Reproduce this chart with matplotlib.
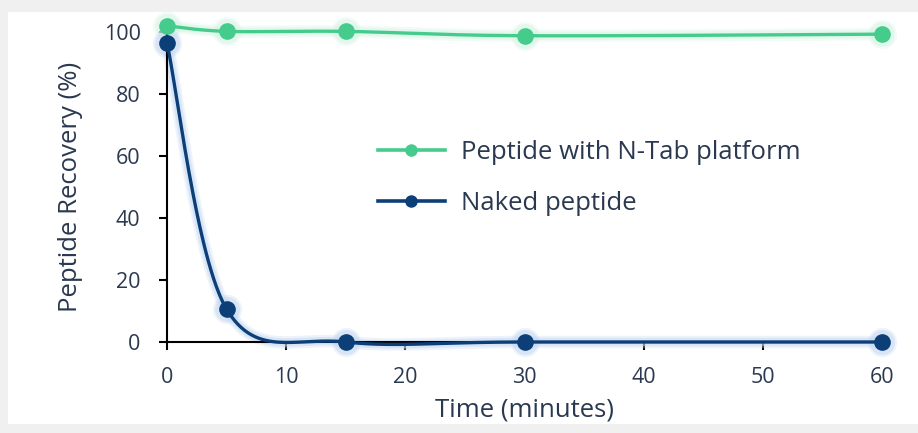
import matplotlib
matplotlib.use('Agg')
import matplotlib.pyplot as plt
import numpy as np
from matplotlib.patches import Rectangle

# data
time_min = [0, 5, 15, 30, 60]
with_ntab = [102, 100.2, 100.2, 98.8, 99.3]
naked = [96.4, 10.6, 0, 0, 0]

green = '#45cc8c'
navy = '#0c3f78'
text_col = '#2b3950'

plt.rcParams['font.family'] = ['Open Sans', 'DejaVu Sans']


def smooth(xs, ys, n=60):
    # Excel-style smoothed line: cubic Bezier per segment
    P = np.column_stack([xs, ys]).astype(float)
    out = []
    for i in range(len(P) - 1):
        p0 = P[i]
        p3 = P[i + 1]
        prev = P[i - 1] if i > 0 else P[i]
        nxt = P[i + 2] if i + 2 < len(P) else P[i + 1]
        c1 = p0 + (p3 - prev) / 6
        c2 = p3 - (nxt - p0) / 6
        t = np.linspace(0, 1, n)[:, None]
        seg = (1 - t)**3 * p0 + 3 * (1 - t)**2 * t * c1 + 3 * (1 - t) * t**2 * c2 + t**3 * p3
        out.append(seg)
    pts = np.vstack(out)
    return pts[:, 0], pts[:, 1]


fig = plt.figure(figsize=(9.18, 4.33), dpi=100, facecolor='#f0f0f0')
fig.patches.append(Rectangle((8 / 918, 1 - 424 / 433), 910 / 918, 412 / 433,
                             transform=fig.transFigure, facecolor='white',
                             edgecolor='none', zorder=-10))
ax = fig.add_axes([167 / 918, 1 - 342 / 433, 715 / 918, 310 / 433])
ax.set_facecolor('none')

for ys, col, glow, label in [(with_ntab, green, '#d6f5e5', 'Peptide with N-Tab platform'),
                             (naked, navy, '#c4d8f2', 'Naked peptide')]:
    sx, sy = smooth(time_min, ys)
    for w, a in [(9, 0.3), (6, 0.5)]:
        ax.plot(sx, sy, color=glow, lw=w, alpha=a, solid_capstyle='round', clip_on=False, zorder=2)
        ax.plot(time_min, ys, 'o', color=glow, ms=12 + w, alpha=a, mec='none', clip_on=False, zorder=2)
    ax.plot(sx, sy, color=col, lw=2.4, clip_on=False, zorder=3)
    ax.plot(time_min, ys, 'o', color=col, ms=12, mec='none', clip_on=False, zorder=4)
    ax.plot([], [], '-o', color=col, lw=2.6, ms=8, label=label)

ax.set_xlim(0, 60)
ax.set_ylim(0, 100)
ax.set_xticks([0, 10, 20, 30, 40, 50, 60])
ax.set_yticks([0, 20, 40, 60, 80, 100])
for s in ['top', 'right']:
    ax.spines[s].set_visible(False)
for s in ['left', 'bottom']:
    ax.spines[s].set_linewidth(1.5)
ax.tick_params(length=6, width=1.5, labelsize=15.5, labelcolor=text_col)
ax.tick_params(axis='x', pad=12)
ax.tick_params(axis='y', pad=13)

ax.set_xlabel('Time (minutes)', fontsize=18.5, color=text_col, labelpad=7)
ax.set_ylabel('Peptide Recovery (%)', fontsize=18.5, color=text_col, labelpad=15)

ax.legend(loc='upper left', bbox_to_anchor=(0.295, 0.652), frameon=False, fontsize=18.5,
          handlelength=2.6, handletextpad=0.62, labelspacing=1.0, borderpad=0,
          borderaxespad=0, labelcolor=text_col)

plt.savefig('out.png', dpi=100, facecolor=fig.get_facecolor())
